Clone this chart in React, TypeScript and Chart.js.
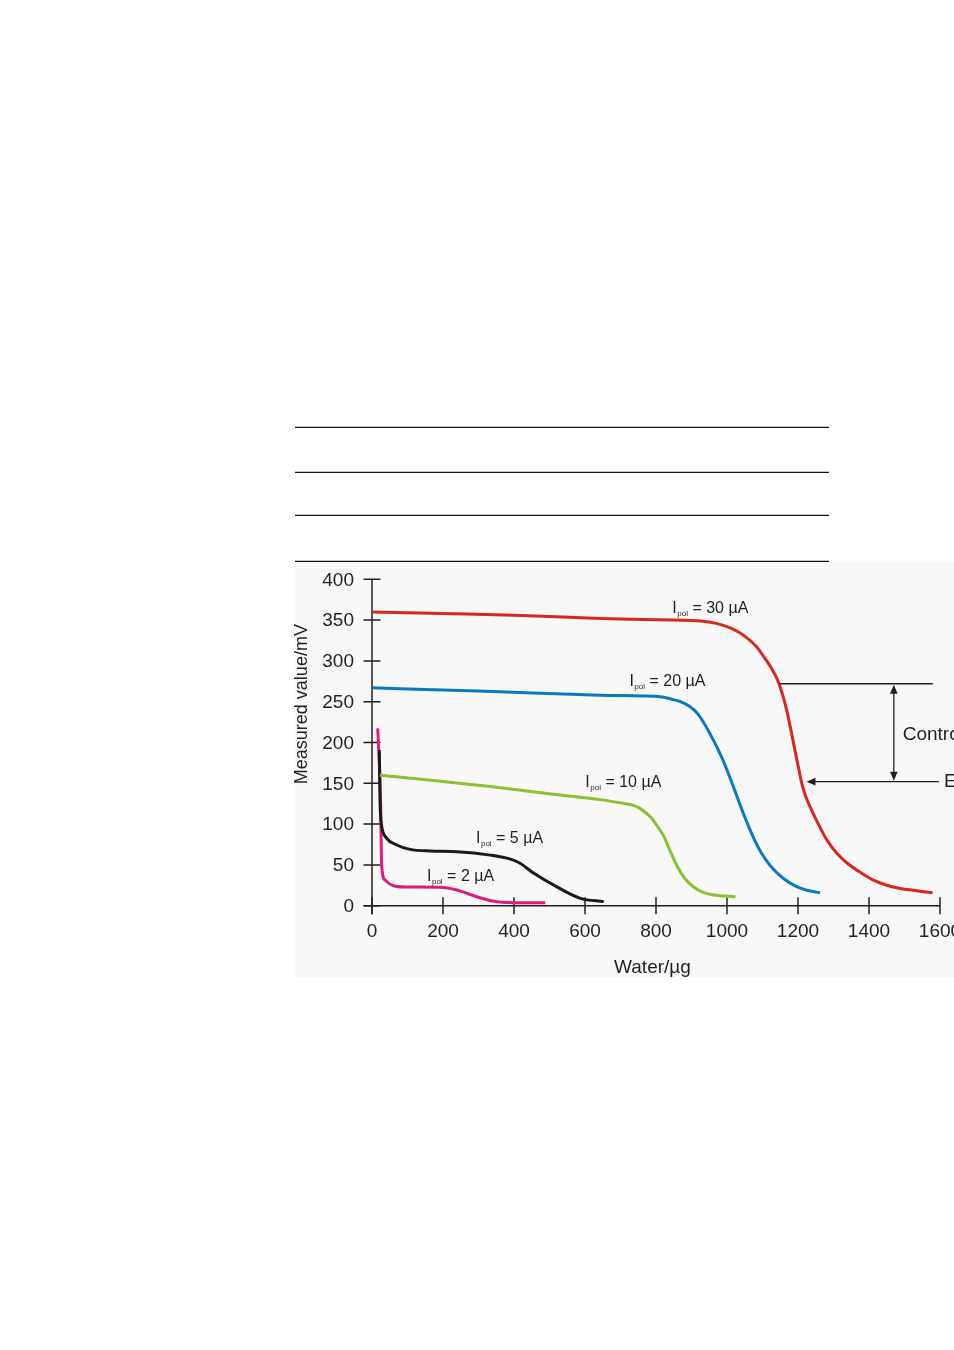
import React, { useEffect, useRef } from "react";
import { Chart, registerables } from "chart.js";

Chart.register(...registerables);

// ---------- data ----------
const xTicks = [0, 200, 400, 600, 800, 1000, 1200, 1400, 1600];
const yTicks = [0, 50, 100, 150, 200, 250, 300, 350, 400];

const i30X = [0, 200, 400, 643, 850, 925, 970, 1000, 1030, 1057, 1082, 1104, 1124, 1142, 1157, 1170, 1182, 1193, 1203, 1209, 1217, 1230, 1245, 1262, 1282, 1310, 1339, 1375, 1414, 1450, 1489, 1579];
const i30Y = [360, 358, 356, 352, 350, 349, 346, 342, 336, 328, 318, 305, 292, 277, 258, 236, 211, 187, 166, 153, 140, 125, 111, 96, 80, 64, 52, 41, 31, 25, 21, 16];

const i20X = [0, 300, 643, 760, 812, 845, 869, 895, 916, 935, 953, 972, 991, 1010, 1029, 1047, 1065, 1085, 1108, 1132, 1160, 1189, 1225, 1262];
const i20Y = [267, 263, 258, 257, 256, 253, 250, 244, 236, 224, 210, 194, 176, 155, 133, 112, 93, 74, 57, 44, 33, 25, 19, 16];

const i10X = [22, 180, 333, 521, 643, 700, 737, 750, 762, 784, 803, 822, 840, 860, 882, 906, 935, 963, 1024];
const i10Y = [160, 153, 146, 136, 130, 126, 123, 120.5, 117, 109, 98, 85, 67, 48, 33, 23, 16, 13, 11];

const i5X = [20.6, 22.6, 24, 27.4, 41.5, 69.7, 107, 163.6, 239, 333, 390, 417, 455, 521, 587, 653];
const i5Y = [190.8, 129.5, 111, 96.8, 82.6, 74.4, 69, 67, 66.2, 62, 57, 52, 40, 23, 9, 5];

const i2X = [16, 17.8, 24, 27.4, 36.7, 60, 98, 192, 239, 295, 352, 427, 488];
const i2Y = [217.4, 203, 129.5, 47.8, 31.5, 24.5, 23, 22.5, 19.2, 11, 4.9, 3.7, 3.7];

const seriesLabels = ["30 µA", "20 µA", "10 µA", "5 µA", "2 µA"];
const labelX = [846, 725, 601, 293, 155];
const labelY = [359, 269, 145.5, 77, 30];

// annotation (data space)
const controlTopY = 272;
const controlTopX = [1148, 1580];
const endPointY = 152;
const endPointX = [1224, 1597];
const bracketX = 1470;
const controlText = "Control range";
const controlTextPos = [1495, 209];
const endText = "End point";
const endTextPos = [1611, 152];

const xTitle = "Water/µg";
const yTitle = "Measured value/mV";

const colors = ["#d9261e", "#0a7ac0", "#88c230", "#1d1a1b", "#e0197f"];

const toPts = (xs: number[], ys: number[]) => xs.map((x, i) => ({ x, y: ys[i] }));

const FONT = '"Liberation Sans", Arial, sans-serif';
const INK = "#231f20";

export default function App() {
  const ref = useRef<HTMLCanvasElement | null>(null);

  useEffect(() => {
    if (!ref.current) return;

    const decor = {
      id: "decor",
      beforeDraw(chart: any) {
        const ctx = chart.ctx;
        ctx.save();
        ctx.fillStyle = "#f8f8f8";
        ctx.fillRect(295, 562, 659, 415);
        ctx.strokeStyle = "#111";
        ctx.lineWidth = 1.3;
        [427.3, 472.3, 515.3, 561.3].forEach((y) => {
          ctx.beginPath();
          ctx.moveTo(295, y);
          ctx.lineTo(829, y);
          ctx.stroke();
        });
        ctx.restore();
      },
      beforeDatasetsDraw(chart: any) {
        const ctx = chart.ctx;
        const xs = chart.scales.x;
        const ys = chart.scales.y;
        const x0 = xs.getPixelForValue(0);
        const y0 = ys.getPixelForValue(0);
        const tl = 8.5;
        ctx.save();
        ctx.strokeStyle = INK;
        ctx.lineWidth = 1.5;
        ctx.beginPath();
        ctx.moveTo(x0, ys.getPixelForValue(400));
        ctx.lineTo(x0, y0 + tl);
        ctx.moveTo(x0 - tl, y0);
        ctx.lineTo(xs.getPixelForValue(1600), y0);
        ctx.stroke();
        ctx.beginPath();
        yTicks.forEach((v) => {
          const y = ys.getPixelForValue(v);
          ctx.moveTo(x0 - tl, y);
          ctx.lineTo(x0 + tl, y);
        });
        xTicks.forEach((v) => {
          const x = xs.getPixelForValue(v);
          ctx.moveTo(x, y0 - tl);
          ctx.lineTo(x, y0 + tl);
        });
        ctx.stroke();
        ctx.fillStyle = INK;
        ctx.font = `19px ${FONT}`;
        ctx.textBaseline = "middle";
        ctx.textAlign = "right";
        yTicks.forEach((v) => {
          ctx.fillText(String(v), x0 - 18, ys.getPixelForValue(v) + 1);
        });
        ctx.textAlign = "center";
        xTicks.forEach((v) => {
          ctx.fillText(String(v), xs.getPixelForValue(v), y0 + 26);
        });
        ctx.fillText(xTitle, xs.getPixelForValue(790), y0 + 62);
        ctx.save();
        ctx.translate(302, ys.getPixelForValue(247));
        ctx.rotate(-Math.PI / 2);
        ctx.font = `18px ${FONT}`;
        ctx.fillText(yTitle, 0, 0);
        ctx.restore();
        ctx.restore();
      },
      afterDatasetsDraw(chart: any) {
        const ctx = chart.ctx;
        const xs = chart.scales.x;
        const ys = chart.scales.y;
        ctx.save();
        ctx.fillStyle = INK;
        ctx.textBaseline = "alphabetic";
        ctx.textAlign = "left";
        seriesLabels.forEach((lab, i) => {
          const px = xs.getPixelForValue(labelX[i]);
          const py = ys.getPixelForValue(labelY[i]);
          ctx.font = `16px ${FONT}`;
          ctx.fillText("I", px, py);
          const w1 = ctx.measureText("I").width;
          ctx.font = `8px ${FONT}`;
          ctx.fillText("pol", px + w1 + 0.5, py + 3);
          const w2 = ctx.measureText("pol").width;
          ctx.font = `16px ${FONT}`;
          ctx.fillText(" = " + lab, px + w1 + 0.5 + w2, py);
        });

        ctx.strokeStyle = INK;
        ctx.lineWidth = 1.3;
        const yt = ys.getPixelForValue(controlTopY);
        const yb = ys.getPixelForValue(endPointY);
        const bx = xs.getPixelForValue(bracketX);
        ctx.beginPath();
        ctx.moveTo(xs.getPixelForValue(controlTopX[0]), yt);
        ctx.lineTo(xs.getPixelForValue(controlTopX[1]), yt);
        ctx.moveTo(xs.getPixelForValue(endPointX[0]) + 6, yb);
        ctx.lineTo(xs.getPixelForValue(endPointX[1]), yb);
        ctx.moveTo(bx, yt + 6);
        ctx.lineTo(bx, yb - 6);
        ctx.stroke();
        const head = (tx: number, ty: number, dx: number, dy: number) => {
          const L = 9, W = 3.8;
          const px = -dy, py = dx;
          ctx.beginPath();
          ctx.moveTo(tx, ty);
          ctx.lineTo(tx - dx * L + px * W, ty - dy * L + py * W);
          ctx.lineTo(tx - dx * L - px * W, ty - dy * L - py * W);
          ctx.closePath();
          ctx.fill();
        };
        head(bx, yt + 1, 0, -1);
        head(bx, yb - 1, 0, 1);
        head(xs.getPixelForValue(endPointX[0]), yb, -1, 0);

        ctx.font = `19px ${FONT}`;
        ctx.textBaseline = "middle";
        ctx.fillText(controlText, xs.getPixelForValue(controlTextPos[0]), ys.getPixelForValue(controlTextPos[1]));
        ctx.fillText(endText, xs.getPixelForValue(endTextPos[0]), ys.getPixelForValue(endTextPos[1]));
        ctx.restore();
      },
    };

    const mk = (xs: number[], ys: number[], c: string) => ({
      data: toPts(xs, ys),
      borderColor: c,
      backgroundColor: c,
      borderWidth: 3,
      pointRadius: 0,
      fill: false,
      cubicInterpolationMode: "monotone" as const,
      clip: false as const,
    });

    const chart = new Chart(ref.current, {
      type: "line",
      data: {
        datasets: [
          mk(i30X, i30Y, colors[0]),
          mk(i20X, i20Y, colors[1]),
          mk(i10X, i10Y, colors[2]),
          mk(i5X, i5Y, colors[3]),
          mk(i2X, i2Y, colors[4]),
        ],
      },
      options: {
        responsive: false,
        animation: false,
        layout: { padding: { left: 372, right: 14, top: 579.3, bottom: 94.3 } },
        plugins: { legend: { display: false }, tooltip: { enabled: false } },
        scales: {
          x: { type: "linear", min: 0, max: 1600, display: false },
          y: { type: "linear", min: 0, max: 400, display: false },
        },
      },
      plugins: [decor],
    });
    return () => chart.destroy();
  }, []);

  return (
    <div style={{ position: "absolute", left: 0, top: 0, width: 954, height: 1000, overflow: "hidden" }}>
      <canvas ref={ref} width={954} height={1000} style={{ display: "block" }} />
    </div>
  );
}
